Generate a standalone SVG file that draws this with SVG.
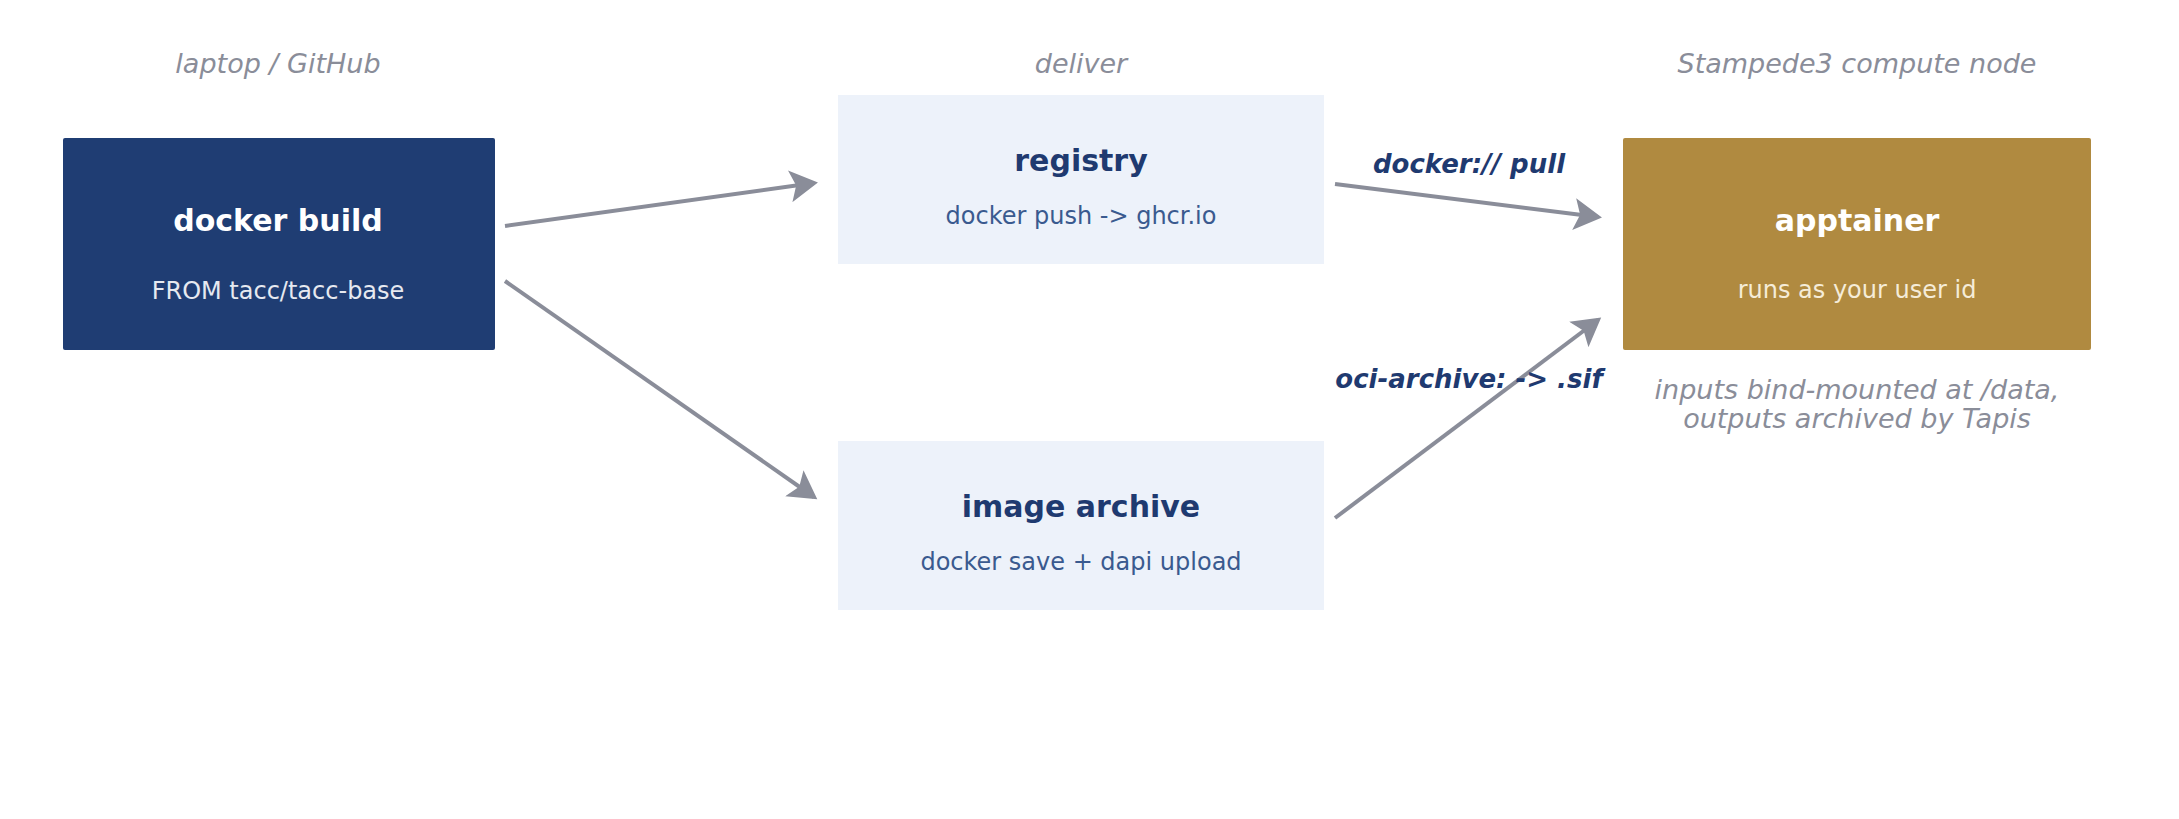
<svg xmlns="http://www.w3.org/2000/svg" width="2179" height="819" viewBox="0 0 2179 819">
<style>
text{font-family:"DejaVu Sans",sans-serif;text-anchor:middle;dominant-baseline:central}
.hdr{font-size:27px;font-style:italic;fill:#8a8d99}
.t{font-size:30px;font-weight:bold}
.s{font-size:24px}
.lbl{font-size:26px;font-weight:bold;font-style:italic;fill:#1f3a70}
.c{stroke:#8a8d99;stroke-width:4;fill:none;marker-end:url(#ah)}
</style>
<defs><marker id="ah" markerWidth="8" markerHeight="8" refX="6" refY="4" orient="auto" markerUnits="strokeWidth"><path d="M0,0 L7,4 L0,8 L1.5,4 Z" fill="#8a8d99"/></marker></defs>
<text class="hdr" x="278" y="63">laptop / GitHub</text>
<text class="hdr" x="1081" y="63">deliver</text>
<text class="hdr" x="1857" y="63">Stampede3 compute node</text>
<g id="build"><rect x="63" y="138" width="432" height="212" rx="2" fill="#1f3d73"/><text class="t" x="278" y="220" fill="#fff">docker build</text><text class="s" x="278" y="291" fill="#e6e9f0">FROM tacc/tacc-base</text></g>
<g id="registry"><rect x="838" y="95" width="486" height="169" fill="#edf2fa"/><text class="t" x="1081" y="160" fill="#1f3a70">registry</text><text class="s" x="1081" y="216" fill="#3a5a8f">docker push -&gt; ghcr.io</text></g>
<g id="archive"><rect x="838" y="441" width="486" height="169" fill="#edf2fa"/><text class="t" x="1081" y="506" fill="#1f3a70">image archive</text><text class="s" x="1081" y="562" fill="#3a5a8f">docker save + dapi upload</text></g>
<g id="apptainer"><rect x="1623" y="138" width="468" height="212" rx="2" fill="#b08a40"/><text class="t" x="1857" y="220" fill="#fff">apptainer</text><text class="s" x="1857" y="290" fill="#f5ecd8">runs as your user id</text>
<text class="hdr" x="1857" y="389">inputs bind-mounted at /data,</text><text class="hdr" x="1857" y="418">outputs archived by Tapis</text></g>
<g id="connectors">
<path class="c" d="M505,226 L814,183"/>
<path class="c" d="M505,281 L814,497"/>
<path class="c" d="M1335,184 L1598,217"/>
<path class="c" d="M1335,518 L1598,320"/>
<text class="lbl" x="1469" y="164">docker:// pull</text>
<text class="lbl" x="1469" y="379">oci-archive: -&gt; .sif</text>
</g>
</svg>
